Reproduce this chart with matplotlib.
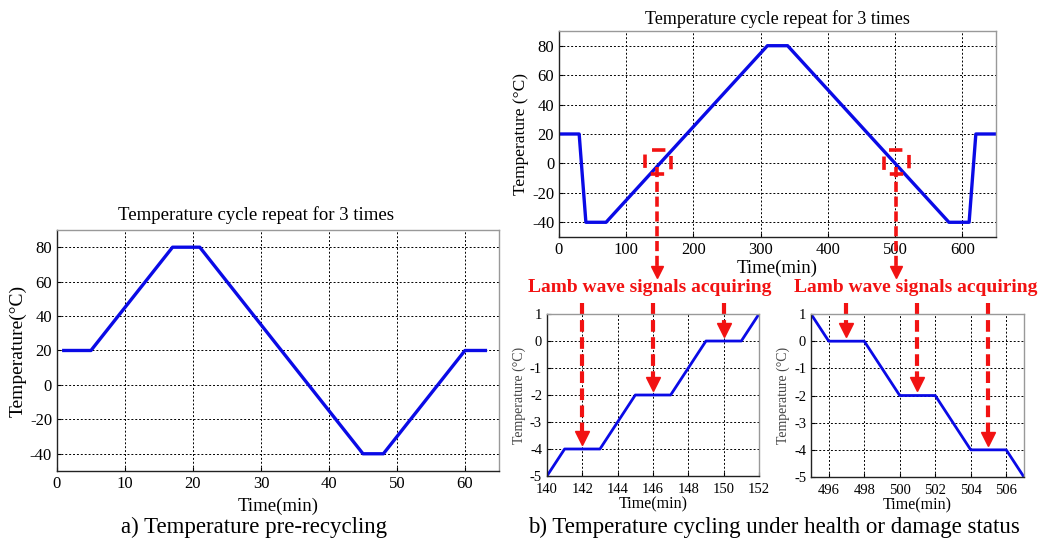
import matplotlib
matplotlib.use("Agg")
import matplotlib.pyplot as plt
from matplotlib.patches import Rectangle
from matplotlib.transforms import offset_copy

plt.rcParams['font.family'] = ['Liberation Serif', 'DejaVu Serif']
plt.rcParams['mathtext.fontset'] = 'stix'
plt.rcParams['axes.unicode_minus'] = False

# pre-recycling run (min, degC)
pre_t = [1, 5, 17, 21, 45, 48, 60, 63]
pre_temp = [20, 20, 80, 80, -40, -40, 20, 20]

# full cycle
cyc_t = [0, 30, 40, 70, 310, 340, 580, 610, 620, 650]
cyc_temp = [20, 20, -40, -40, 80, 80, -40, -40, 20, 20]

# close-up of heating pass around 0 degC
up_t = [140, 141, 143, 145, 147, 149, 151, 152]
up_temp = [-5, -4, -4, -2, -2, 0, 0, 1]
up_acq_t = [142, 146, 150]
up_acq_temp = [-4, -2, 0]

# close-up of cooling pass around 0 degC
down_t = [495, 496, 498, 500, 502, 504, 506, 507]
down_temp = [1, 0, 0, -2, -2, -4, -4, -5]
down_acq_t = [497, 501, 505]
down_acq_temp = [0, -2, -4]

# windows marked on the full cycle
win_t = [(128, 166), (483, 521)]
win_temp = (-7, 9)

BLUE = '#0a0ae6'
RED = '#f21212'
LABEL = 'Temperature (°C)'

fig = plt.figure(figsize=(10.47, 5.39), dpi=100)


def style_axes(ax, tick_size, pad=3.5):
    ax.grid(True, color='black', linestyle=(0, (2, 2)), linewidth=0.7)
    ax.tick_params(direction='in', length=3, labelsize=tick_size, width=0.8, pad=pad)
    ax.spines['left'].set_color('#222222')
    ax.spines['bottom'].set_color('#222222')
    ax.spines['top'].set_color('#999999')
    ax.spines['right'].set_color('#999999')
    for s in ax.spines.values():
        s.set_linewidth(1.0)


def drop_arrow(ax, x, y_top, y_tip, head=9, lw=2.6):
    lift = offset_copy(ax.transData, fig=fig, x=0, y=head / 2, units='points')
    ax.plot([x, x], [y_top, y_tip], color=RED, lw=lw, ls=(0, (2.8, 1.3)),
            transform=lift, clip_on=False, solid_capstyle='butt')
    ax.plot([x], [y_tip], marker='v', ms=head, color=RED, mec=RED, ls='none',
            transform=lift, clip_on=False)


# a) pre-recycling
ax1 = fig.add_axes([0.0544, 0.1262, 0.4222, 0.4471])
ax1.plot(pre_t, pre_temp, color=BLUE, lw=2.4)
ax1.set_xlim(0, 65)
ax1.set_ylim(-50, 90)
ax1.set_xticks(range(0, 61, 10))
ax1.set_yticks(range(-40, 81, 20))
style_axes(ax1, 12)
ax1.set_title('Temperature cycle repeat for 3 times', fontsize=13.5, x=0.45, pad=7)
ax1.set_xlabel('Time(min)', fontsize=13.5, labelpad=4)
ax1.set_ylabel('Temperature(°C)', fontsize=14, labelpad=2)

# b) full cycle
ax2 = fig.add_axes([0.5339, 0.5603, 0.4174, 0.3822])
ax2.plot(cyc_t, cyc_temp, color=BLUE, lw=2.4)
ax2.set_xlim(0, 650)
ax2.set_ylim(-50, 90)
ax2.set_xticks(range(0, 601, 100))
ax2.set_yticks(range(-40, 81, 20))
style_axes(ax2, 12)
ax2.set_title('Temperature cycle repeat for 3 times', fontsize=13, pad=5)
ax2.set_xlabel('Time(min)', fontsize=13.5, labelpad=1)
ax2.set_ylabel(LABEL, fontsize=12.5, labelpad=2)

for (t0, t1), xa in zip(win_t, [146, 501]):
    ax2.add_patch(Rectangle((t0, win_temp[0]), t1 - t0, win_temp[1] - win_temp[0],
                            fill=False, ec=RED, lw=2.6,
                            ls=(5.3, (3.7, 3.2)), clip_on=False, zorder=4))
    drop_arrow(ax2, xa, win_temp[0], -78, head=9)

# close-ups
ax3 = fig.add_axes([0.5224, 0.1169, 0.2025, 0.3005])
ax3.plot(up_t, up_temp, color=BLUE, lw=2.0)
ax3.set_xlim(140, 152)
ax3.set_ylim(-5, 1)
ax3.set_xticks(range(140, 153, 2))
ax3.set_yticks(range(-5, 2))
style_axes(ax3, 10.5)
ax3.tick_params(axis='x', pad=5)
ax3.set_xlabel('Time(min)', fontsize=11.5, labelpad=0)
ax3.set_ylabel(LABEL, fontsize=10, color='#444444', labelpad=3)

ax4 = fig.add_axes([0.7746, 0.1150, 0.2034, 0.3024])
ax4.plot(down_t, down_temp, color=BLUE, lw=2.0)
ax4.set_xlim(495, 507)
ax4.set_ylim(-5, 1)
ax4.set_xticks(range(496, 507, 2))
ax4.set_yticks(range(-5, 2))
style_axes(ax4, 10.5)
ax4.tick_params(axis='x', pad=5)
ax4.set_xlabel('Time(min)', fontsize=11.5, labelpad=0)
ax4.set_ylabel(LABEL, fontsize=10, color='#444444', labelpad=3)

for ax, xs, ys in [(ax3, up_acq_t, up_acq_temp), (ax4, down_acq_t, down_acq_temp)]:
    for x, y in zip(xs, ys):
        drop_arrow(ax, x, 1.15, y + 0.15, head=10, lw=3)

fig.text(0.621, 0.466, 'Lamb wave signals acquiring', color=RED, fontsize=14,
         fontweight='bold', ha='center', va='center')
fig.text(0.875, 0.466, 'Lamb wave signals acquiring', color=RED, fontsize=14,
         fontweight='bold', ha='center', va='center')

fig.text(0.243, 0.022, 'a) Temperature pre-recycling', fontsize=16.5, ha='center', va='center')
fig.text(0.739, 0.022, 'b) Temperature cycling under health or damage status', fontsize=16.5,
         ha='center', va='center')

fig.savefig('out.png', dpi=100)
